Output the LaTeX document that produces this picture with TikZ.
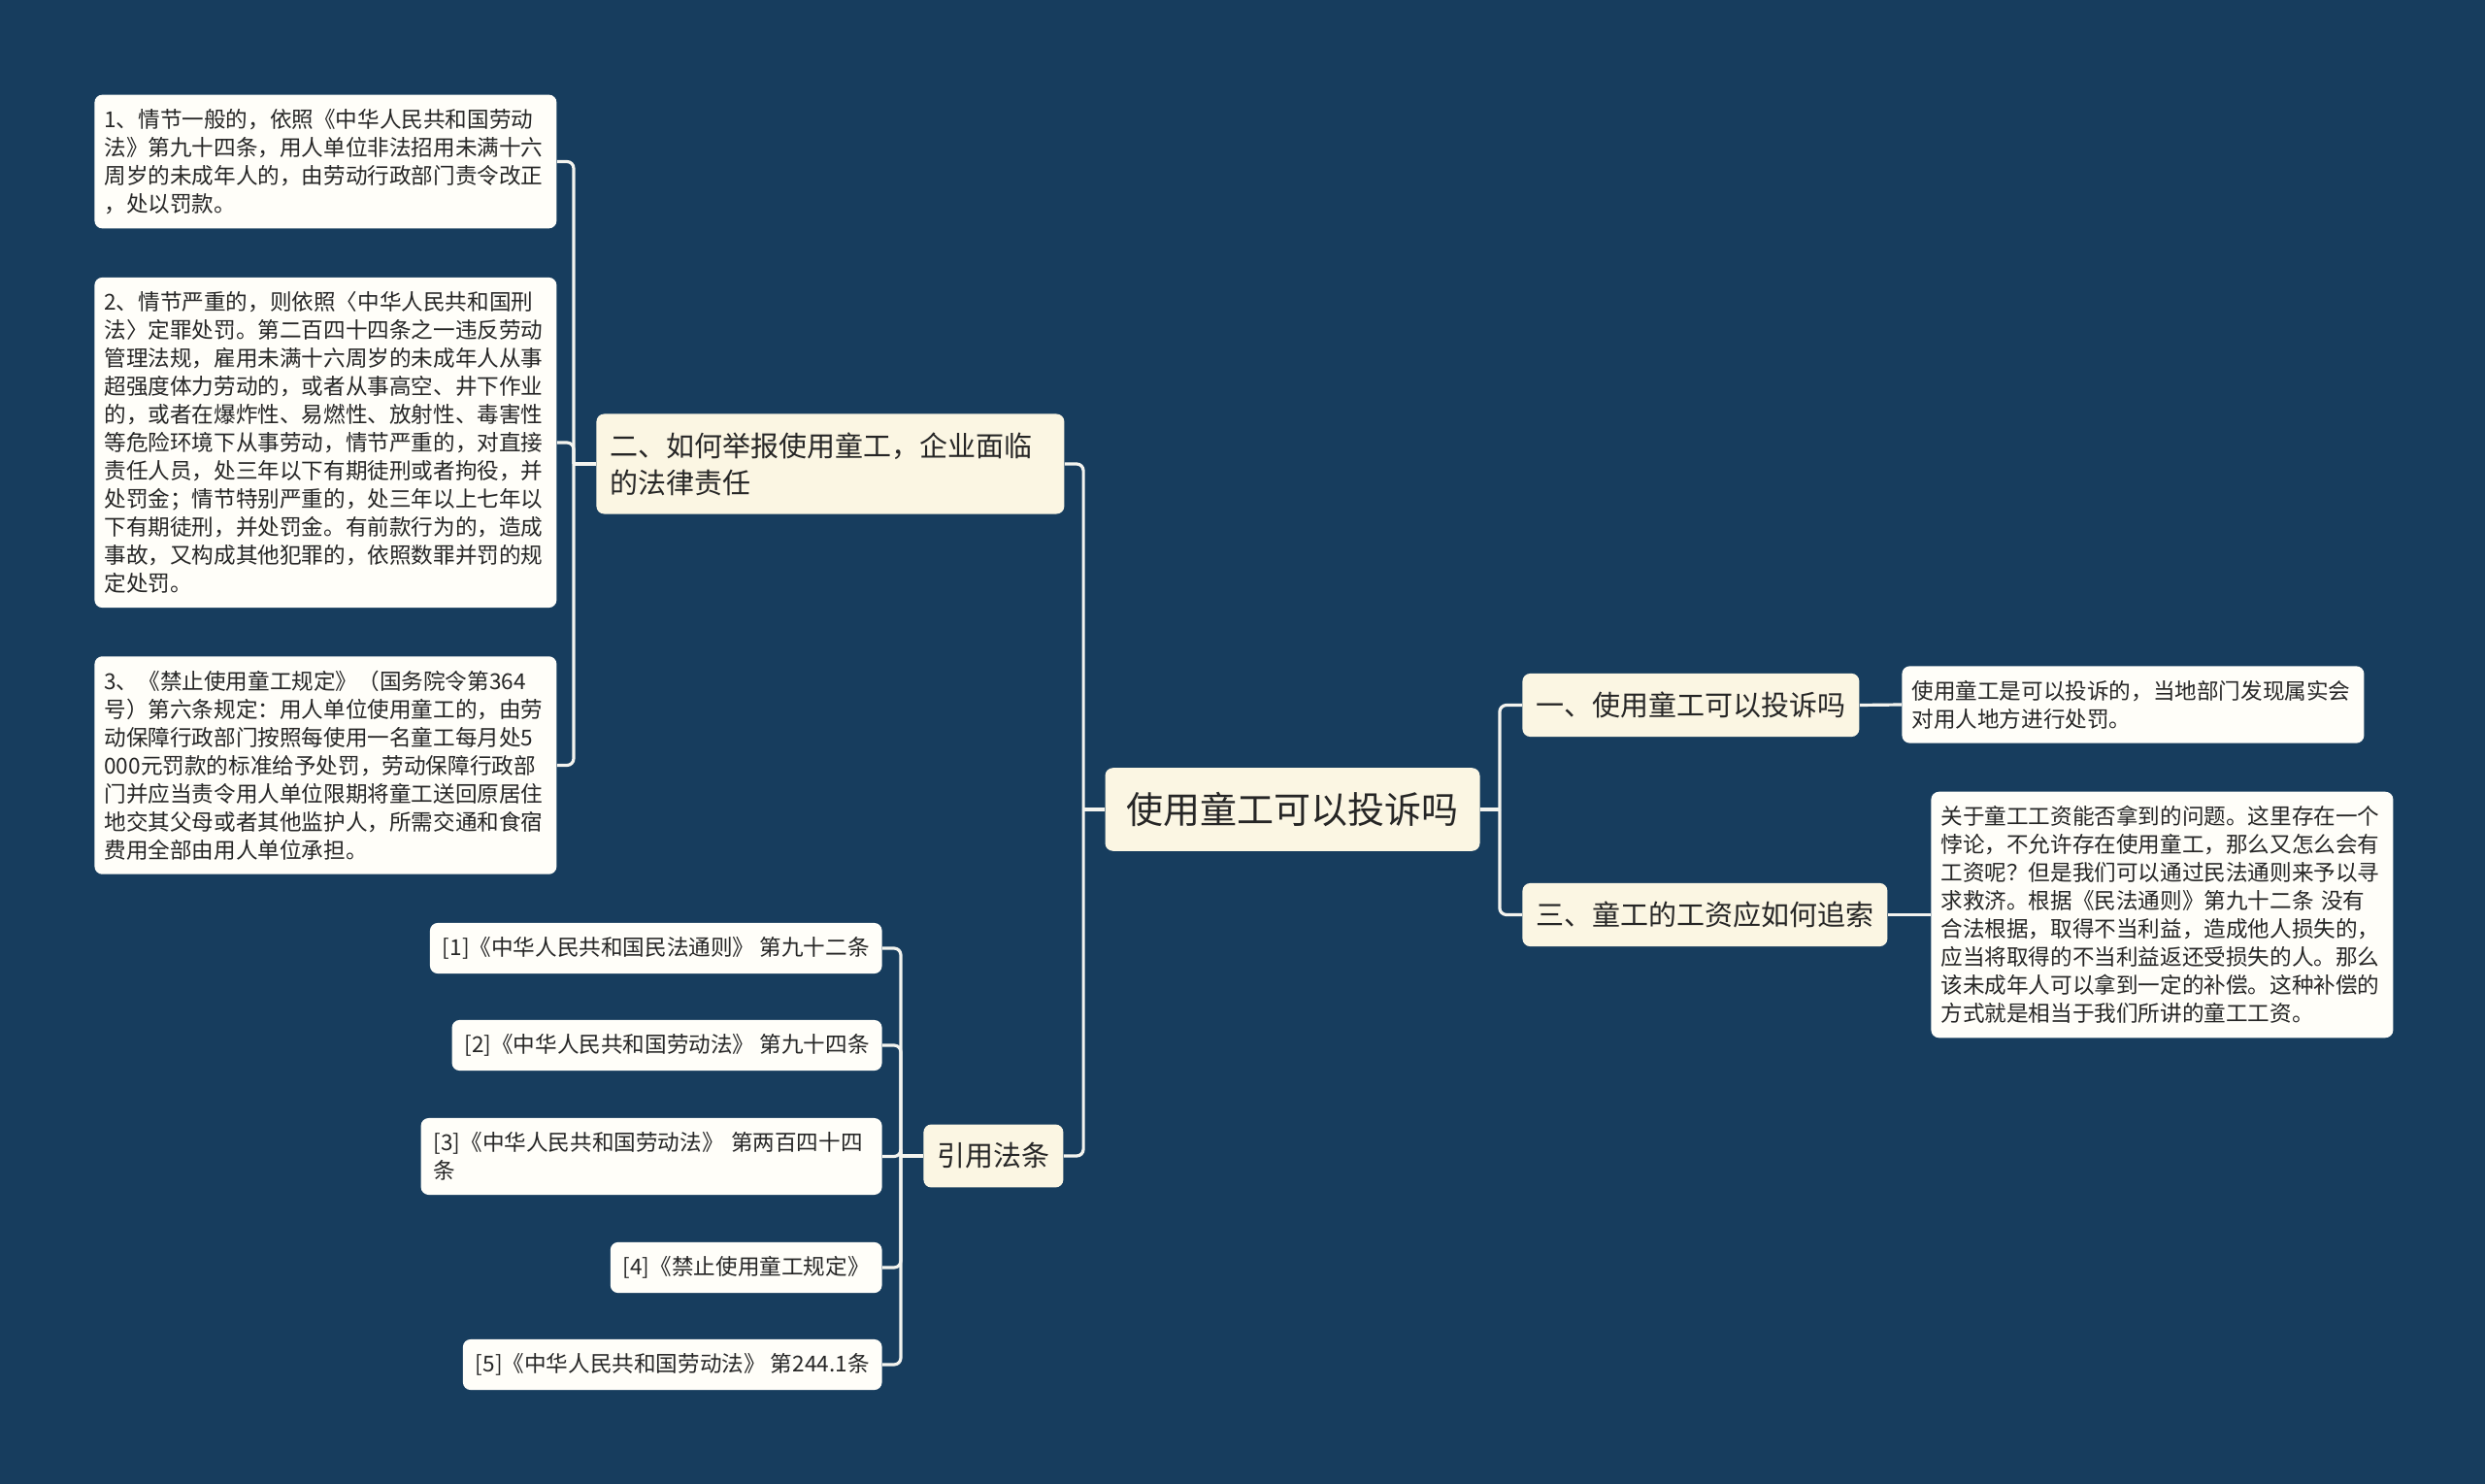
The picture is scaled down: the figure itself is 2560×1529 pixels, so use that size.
\documentclass[tikz,border=0pt]{standalone}
\usepackage{fontspec}
\setmainfont{Noto Sans CJK SC}
\usepackage{tikz}
\usetikzlibrary{positioning, calc}
\definecolor{mybg}{HTML}{173D5E}
\definecolor{mycream}{HTML}{FBF6E3}
\definecolor{mywhite}{HTML}{FFFEF9}
\definecolor{mylink}{HTML}{F4F4EF}
\definecolor{mytext}{HTML}{262626}
\tikzset{
	rootnode/.style={
			shape=rectangle,
			rounded corners=4pt,
			fill=mycream,
			text=mytext,
			font=\fontsize{19pt}{23pt}\selectfont,
			inner xsep=11pt,
			inner ysep=12.5pt
		},
	topicnode/.style={
			shape=rectangle,
			rounded corners=4pt,
			fill=mycream,
			text=mytext,
			font=\fontsize{14.5pt}{19pt}\selectfont,
			inner xsep=7pt,
			inner ysep=9.5pt
		},
	leafnode/.style={
			shape=rectangle,
			rounded corners=4pt,
			fill=mywhite,
			text=mytext,
			align=left,
			font=\fontsize{11.3pt}{14.5pt}\selectfont,
			inner xsep=5pt,
			inner ysep=7.3pt
		},
	refnode/.style={
			leafnode,
			anchor=east,
			inner xsep=6.5pt
		},
	link/.style={
			draw=mylink,
			line width=1.6pt,
			rounded corners=3.5pt
		}
}

\begin{document}
\begin{tikzpicture}[x=0.5pt, y=-0.5pt]

  \fill[mybg] (0,0) rectangle (2560,1529);
  \useasboundingbox (0,0) rectangle (2560,1529);

  % centre and first level
  \node[rootnode] (root) at (1331.5,834) {使用童工可以投诉吗};
  \node[topicnode, anchor=west, text width=227pt, align=left] (q2) at (614,478) {二、如何举报使用童工，企业面临\\的法律责任};
  \node[topicnode, anchor=west] (law) at (951,1191) {引用法条};
  \node[topicnode, anchor=west] (q1) at (1568,726.5) {一、使用童工可以投诉吗};
  \node[topicnode, anchor=west] (q3) at (1568,942.5) {三、童工的工资应如何追索};

  % left leaves
  \node[leafnode, anchor=west, text width=228pt] (c1) at (97,166.5) {1、情节一般的，依照《中华人民共和国劳动\\法》第九十四条，用人单位非法招用未满十六\\周岁的未成年人的，由劳动行政部门责令改正\\，处以罚款。};
  \node[leafnode, anchor=west, text width=228pt] (c2) at (97,456) {2、情节严重的，则依照〈中华人民共和国刑\\法〉定罪处罚。第二百四十四条之一违反劳动\\管理法规，雇用未满十六周岁的未成年人从事\\超强度体力劳动的，或者从事高空、井下作业\\的，或者在爆炸性、易燃性、放射性、毒害性\\等危险环境下从事劳动，情节严重的，对直接\\责任人员，处三年以下有期徒刑或者拘役，并\\处罚金；情节特别严重的，处三年以上七年以\\下有期徒刑，并处罚金。有前款行为的，造成\\事故，又构成其他犯罪的，依照数罪并罚的规\\定处罚。};
  \node[leafnode, anchor=west, text width=228pt] (c3) at (97,788.5) {3、《禁止使用童工规定》（国务院令第364\\号）第六条规定：用人单位使用童工的，由劳\\动保障行政部门按照每使用一名童工每月处5\\000元罚款的标准给予处罚，劳动保障行政部\\门并应当责令用人单位限期将童工送回原居住\\地交其父母或者其他监护人，所需交通和食宿\\费用全部由用人单位承担。};

  % references
  \node[refnode] (r1) at (909,977) {[1]《中华人民共和国民法通则》 第九十二条};
  \node[refnode] (r2) at (909,1077) {[2]《中华人民共和国劳动法》 第九十四条};
  \node[refnode, text width=224.5pt] (r3) at (909,1191.5) {[3]《中华人民共和国劳动法》 第两百四十四\\条};
  \node[refnode] (r4) at (909,1306) {[4]《禁止使用童工规定》};
  \node[refnode] (r5) at (909,1406) {[5]《中华人民共和国劳动法》 第244.1条};

  % right leaves
  \node[leafnode, anchor=west, text width=228pt] (a1) at (1959,726) {使用童工是可以投诉的，当地部门发现属实会\\对用人地方进行处罚。};
  \node[leafnode, anchor=west, text width=228pt] (a3) at (1989,942.5) {关于童工工资能否拿到的问题。这里存在一个\\悖论，不允许存在使用童工，那么又怎么会有\\工资呢？但是我们可以通过民法通则来予以寻\\求救济。根据《民法通则》第九十二条 没有\\合法根据，取得不当利益，造成他人损失的，\\应当将取得的不当利益返还受损失的人。那么\\该未成年人可以拿到一定的补偿。这种补偿的\\方式就是相当于我们所讲的童工工资。};

  % connectors
  \coordinate (jl) at ($(root.west)+(-22,0)$);
  \coordinate (jr) at ($(root.east)+(20,0)$);
  \coordinate (jq2) at ($(q2.west)+(-23,0)$);
  \coordinate (jlaw) at ($(law.west)+(-23,0)$);

  \draw[link] (root.west) -- (jl);
  \draw[link] (jl) |- (q2.east);
  \draw[link] (jl) |- (law.east);
  \draw[link] (root.east) -- (jr);
  \draw[link] (jr) |- (q1.west);
  \draw[link] (jr) |- (q3.west);

  \draw[link] (q2.west) -- (jq2);
  \foreach \c in {c1,c2,c3}
    \draw[link] (jq2) |- (\c.east);

  \draw[link] (law.west) -- (jlaw);
  \foreach \r in {r1,r2,r3,r4,r5}
    \draw[link] (jlaw) |- (\r.east);

  \draw[link] (q1.east) -- (a1.west);
  \draw[link] (q3.east) -- (a3.west);

\end{tikzpicture}
\end{document}
